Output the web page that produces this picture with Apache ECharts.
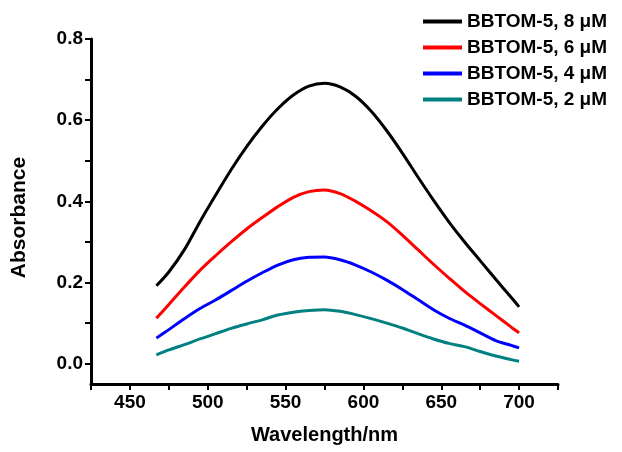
<!DOCTYPE html>
<html>
<head>
<meta charset="utf-8">
<script src="https://cdn.jsdelivr.net/npm/echarts@6/dist/echarts.min.js"></script>
<style>html,body{margin:0;padding:0;background:#fff}#c{width:622px;height:452px}</style>
</head>
<body>
<div id="c"></div>
<script>
const wavelength = [467, 475, 485, 495, 505, 515, 525, 535, 545, 555, 565, 575, 585, 595, 605, 615, 625, 635, 645, 655, 665, 675, 685, 695, 700];
const conc8 = [0.192, 0.226, 0.281, 0.350, 0.415, 0.478, 0.535, 0.585, 0.628, 0.662, 0.684, 0.691, 0.682, 0.659, 0.622, 0.574, 0.519, 0.460, 0.403, 0.349, 0.300, 0.254, 0.208, 0.163, 0.140];
const conc6 = [0.112, 0.146, 0.189, 0.230, 0.266, 0.300, 0.332, 0.360, 0.387, 0.410, 0.424, 0.428, 0.419, 0.400, 0.377, 0.350, 0.317, 0.281, 0.245, 0.211, 0.178, 0.148, 0.119, 0.090, 0.076];
const conc4 = [0.063, 0.084, 0.111, 0.136, 0.157, 0.180, 0.203, 0.224, 0.243, 0.256, 0.262, 0.263, 0.256, 0.243, 0.226, 0.206, 0.183, 0.158, 0.133, 0.112, 0.095, 0.076, 0.057, 0.045, 0.039];
const conc2 = [0.022, 0.034, 0.047, 0.061, 0.074, 0.087, 0.098, 0.108, 0.120, 0.127, 0.131, 0.133, 0.129, 0.121, 0.111, 0.100, 0.088, 0.074, 0.061, 0.050, 0.042, 0.030, 0.019, 0.010, 0.006];
const seriesNames = ['BBTOM-5, 8 μM', 'BBTOM-5, 6 μM', 'BBTOM-5, 4 μM', 'BBTOM-5, 2 μM'];
const seriesColors = ['#000000', '#ff0000', '#0000ff', '#008080'];
const xTickLabels = [450, 500, 550, 600, 650, 700];
const xTicks = [425, 450, 475, 500, 525, 550, 575, 600, 625, 650, 675, 700, 725];
const yTickLabels = [0, 0.2, 0.4, 0.6, 0.8];
const yTicks = [0, 0.1, 0.2, 0.3, 0.4, 0.5, 0.6, 0.7, 0.8];

const allSeries = [conc8, conc6, conc4, conc2];
const font = 'Liberation Sans, Arial, sans-serif';
const chart = echarts.init(document.getElementById('c'));
chart.setOption({
  animation: false,
  backgroundColor: '#fff',
  grid: {left: 91, right: 64, top: 39, bottom: 68},
  legend: {
    orient: 'vertical', left: 423, top: 12, itemGap: 7, padding: 0,
    itemWidth: 39, itemHeight: 4, icon: 'rect',
    textStyle: {fontFamily: font, fontWeight: 'bold', fontSize: 19, color: '#000', lineHeight: 19},
    data: seriesNames
  },
  xAxis: {
    type: 'value', min: 425, max: 725,
    name: 'Wavelength/nm', nameLocation: 'middle', nameGap: 41,
    nameTextStyle: {fontFamily: font, fontWeight: 'bold', fontSize: 20, color: '#000'},
    axisLine: {onZero: false, lineStyle: {color: '#000', width: 3}},
    axisTick: {customValues: xTicks, length: 6, lineStyle: {color: '#000', width: 2}},
    axisLabel: {customValues: xTickLabels, margin: 9, fontFamily: font, fontWeight: 'bold', fontSize: 19, color: '#000'},
    splitLine: {show: false}
  },
  yAxis: {
    type: 'value', min: -0.05, max: 0.8,
    name: 'Absorbance', nameLocation: 'middle', nameGap: 61,
    nameTextStyle: {fontFamily: font, fontWeight: 'bold', fontSize: 21, color: '#000', padding: [0, 12, 0, 0]},
    axisLine: {show: true, onZero: false, lineStyle: {color: '#000', width: 3}},
    axisTick: {show: true, customValues: yTicks, length: 6, lineStyle: {color: '#000', width: 2}},
    axisLabel: {customValues: yTickLabels, margin: 8, fontFamily: font, fontWeight: 'bold', fontSize: 19, color: '#000',
      formatter: v => v.toFixed(1)},
    splitLine: {show: false}
  },
  series: allSeries.map((vals, i) => ({
    name: seriesNames[i], type: 'line', smooth: 0.3, symbol: 'none',
    lineStyle: {color: seriesColors[i], width: 3},
    itemStyle: {color: seriesColors[i]},
    data: wavelength.map((w, j) => [w, vals[j]])
  }))
});
</script>
</body>
</html>
